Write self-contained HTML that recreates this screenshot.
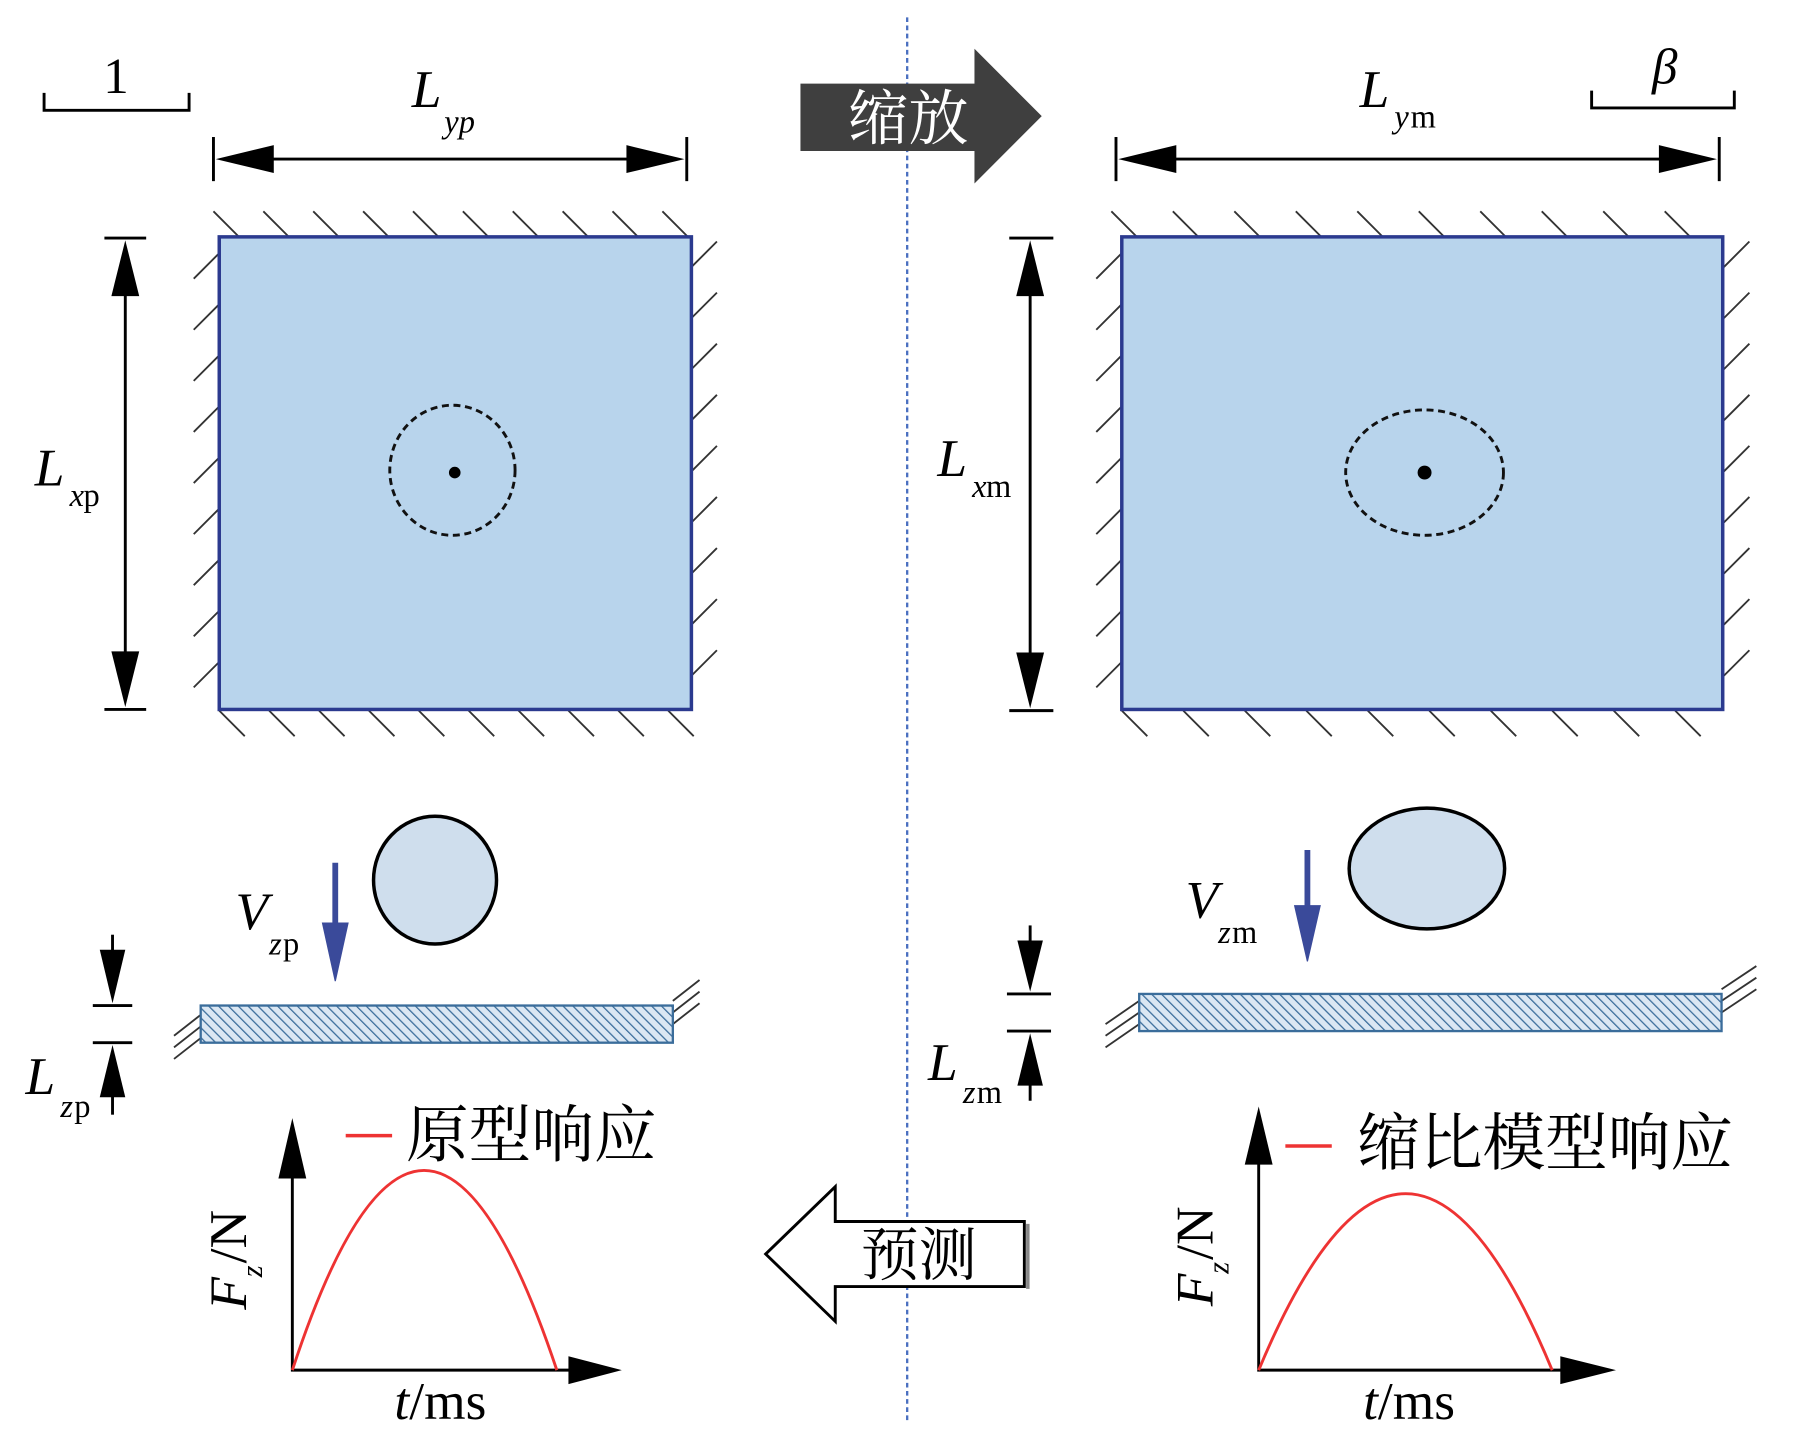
<!DOCTYPE html>
<html><head><meta charset="utf-8"><style>html,body{margin:0;padding:0;background:#fff}svg{display:block}</style></head><body>
<svg width="1819" height="1434" viewBox="0 0 1568 1235" preserveAspectRatio="none" xmlns="http://www.w3.org/2000/svg" font-family="Liberation Serif, Noto Serif CJK SC, serif">
<defs>
<pattern id="hp" width="6" height="6" patternUnits="userSpaceOnUse" patternTransform="rotate(-45)"><rect width="6" height="6" fill="#dbe7f3"/><line x1="0" y1="0" x2="0" y2="6" stroke="#3b6d9b" stroke-width="2.2"/></pattern>
</defs>
<line x1="782" y1="15" x2="782" y2="1225" stroke="#4a6fc0" stroke-width="2" stroke-dasharray="4,3"/>
<path d="M38,80 V95 H163 V80" fill="none" stroke="#000" stroke-width="2.5"/>
<text x="100" y="80" font-size="44" text-anchor="middle">1</text>
<path d="M1372,78 V93 H1495 V78" fill="none" stroke="#000" stroke-width="2.5"/>
<text x="1435" y="72" font-size="44" font-style="italic" text-anchor="middle">β</text>
<g stroke="#000" stroke-width="2.5">
<line x1="184" y1="118" x2="184" y2="156"/><line x1="592" y1="118" x2="592" y2="156"/><line x1="230" y1="137" x2="546" y2="137"/>
<line x1="962" y1="118" x2="962" y2="156"/><line x1="1482" y1="118" x2="1482" y2="156"/><line x1="1010" y1="137" x2="1434" y2="137"/>
<line x1="90" y1="205" x2="126" y2="205"/><line x1="90" y1="611" x2="126" y2="611"/><line x1="108" y1="250" x2="108" y2="566"/>
<line x1="870" y1="205" x2="908" y2="205"/><line x1="870" y1="612" x2="908" y2="612"/><line x1="888" y1="250" x2="888" y2="566"/>
</g>
<g fill="#000">
<path d="M186,137 L236,125 L236,149z"/><path d="M590,137 L540,125 L540,149z"/>
<path d="M964,137 L1014,125 L1014,149z"/><path d="M1480,137 L1430,125 L1430,149z"/>
<path d="M108,207 L96,255 L120,255z"/><path d="M108,609 L96,561 L120,561z"/>
<path d="M888,207 L876,255 L900,255z"/><path d="M888,610 L876,562 L900,562z"/>
</g>
<text x="355" y="92" font-size="46" font-style="italic">L</text><text x="383" y="114" font-size="28" font-style="italic">yp</text>
<text x="1172" y="92" font-size="46" font-style="italic">L</text><text x="1202" y="110" font-size="28" font-style="italic">y</text><text x="1216" y="110" font-size="28">m</text>
<text x="30" y="418" font-size="46" font-style="italic">L</text><text x="60" y="436" font-size="28" font-style="italic">x</text><text x="72" y="436" font-size="28">p</text>
<text x="808" y="410" font-size="46" font-style="italic">L</text><text x="838" y="428" font-size="28" font-style="italic">x</text><text x="850" y="428" font-size="28">m</text>
<g stroke="#333" stroke-width="1.6">
<path d="M184,182 l22,22 M227,182 l22,22 M270,182 l22,22 M313,182 l22,22 M356,182 l22,22 M399,182 l22,22 M442,182 l22,22 M485,182 l22,22 M528,182 l22,22 M571,182 l22,22"/>
<path d="M189,612 l22,22 M232,612 l22,22 M275,612 l22,22 M318,612 l22,22 M361,612 l22,22 M404,612 l22,22 M447,612 l22,22 M490,612 l22,22 M533,612 l22,22 M576,612 l22,22"/>
<path d="M167,240 l22,-22 M167,284 l22,-22 M167,328 l22,-22 M167,372 l22,-22 M167,416 l22,-22 M167,460 l22,-22 M167,504 l22,-22 M167,548 l22,-22 M167,592 l22,-22"/>
<path d="M596,230 l22,-22 M596,274 l22,-22 M596,318 l22,-22 M596,362 l22,-22 M596,406 l22,-22 M596,450 l22,-22 M596,494 l22,-22 M596,538 l22,-22 M596,582 l22,-22"/>
<path d="M958,182 l22,22 M1011,182 l22,22 M1064,182 l22,22 M1117,182 l22,22 M1170,182 l22,22 M1223,182 l22,22 M1276,182 l22,22 M1329,182 l22,22 M1382,182 l22,22 M1435,182 l22,22"/>
<path d="M967,612 l22,22 M1020,612 l22,22 M1073,612 l22,22 M1126,612 l22,22 M1179,612 l22,22 M1232,612 l22,22 M1285,612 l22,22 M1338,612 l22,22 M1391,612 l22,22 M1444,612 l22,22"/>
<path d="M945,240 l22,-22 M945,284 l22,-22 M945,328 l22,-22 M945,372 l22,-22 M945,416 l22,-22 M945,460 l22,-22 M945,504 l22,-22 M945,548 l22,-22 M945,592 l22,-22"/>
<path d="M1486,230 l22,-22 M1486,274 l22,-22 M1486,318 l22,-22 M1486,362 l22,-22 M1486,406 l22,-22 M1486,450 l22,-22 M1486,494 l22,-22 M1486,538 l22,-22 M1486,582 l22,-22"/>
</g>
<rect x="189" y="204" width="407" height="407" fill="#b8d4ec" stroke="#2b3a8f" stroke-width="3"/>
<rect x="967" y="204" width="518" height="407" fill="#b8d4ec" stroke="#2b3a8f" stroke-width="3"/>
<ellipse cx="390" cy="405" rx="54" ry="56" fill="none" stroke="#111" stroke-width="2.5" stroke-dasharray="6,4"/>
<circle cx="392" cy="407" r="5" fill="#000"/>
<ellipse cx="1228" cy="407" rx="68" ry="54" fill="none" stroke="#111" stroke-width="2.5" stroke-dasharray="6,4"/>
<circle cx="1228" cy="407" r="6" fill="#000"/>
<path d="M690,72 H840 V42 L898,100 L840,158 V130 H690z" fill="#3f3f3f"/>
<text x="783" y="120" font-size="52" fill="#fff" text-anchor="middle" font-family="Noto Serif CJK SC, serif">缩放</text>
<ellipse cx="375" cy="758" rx="53" ry="55" fill="#cfdeed" stroke="#000" stroke-width="3"/>
<ellipse cx="1230" cy="748" rx="67" ry="52" fill="#cfdeed" stroke="#000" stroke-width="3"/>
<g fill="#3a4a9a" stroke="#3a4a9a"><line x1="289" y1="743" x2="289" y2="800" stroke-width="5"/><path d="M278,795 L300,795 L289,845z"/>
<line x1="1127" y1="732" x2="1127" y2="785" stroke-width="5"/><path d="M1116,780 L1138,780 L1127,828z"/></g>
<text x="203" y="800" font-size="46" font-style="italic">V</text><text x="232" y="822" font-size="28" font-style="italic">z</text><text x="244" y="822" font-size="28">p</text>
<text x="1022" y="790" font-size="46" font-style="italic">V</text><text x="1050" y="812" font-size="28" font-style="italic">z</text><text x="1062" y="812" font-size="28">m</text>
<g stroke="#333" stroke-width="1.6">
<path d="M150,892 l23,-18 M150,902 l23,-18 M150,912 l23,-18 M580,862 l23,-18 M580,872 l23,-18 M580,882 l23,-18"/>
<path d="M953,882 l29,-20 M953,892 l29,-20 M953,902 l29,-20 M1484,852 l30,-20 M1484,862 l30,-20 M1484,872 l30,-20"/>
</g>
<rect x="173" y="866" width="407" height="32" fill="url(#hp)" stroke="#3b6d9b" stroke-width="2"/>
<rect x="982" y="856" width="502" height="32" fill="url(#hp)" stroke="#3b6d9b" stroke-width="2"/>
<g stroke="#000" stroke-width="2.5">
<line x1="80" y1="866" x2="114" y2="866"/><line x1="80" y1="898" x2="114" y2="898"/><line x1="97" y1="805" x2="97" y2="830"/><line x1="97" y1="935" x2="97" y2="960"/>
<line x1="868" y1="856" x2="906" y2="856"/><line x1="868" y1="888" x2="906" y2="888"/><line x1="888" y1="797" x2="888" y2="820"/><line x1="888" y1="925" x2="888" y2="948"/>
</g>
<g fill="#000"><path d="M86,818 L108,818 L97,864z"/><path d="M86,945 L108,945 L97,900z"/>
<path d="M877,810 L899,810 L888,854z"/><path d="M877,935 L899,935 L888,890z"/></g>
<text x="22" y="942" font-size="46" font-style="italic">L</text><text x="52" y="962" font-size="28" font-style="italic">z</text><text x="64" y="962" font-size="28">p</text>
<text x="800" y="930" font-size="46" font-style="italic">L</text><text x="830" y="950" font-size="28" font-style="italic">z</text><text x="842" y="950" font-size="28">m</text>
<g stroke="#000" stroke-width="2.5" fill="none"><path d="M252,995 V1180 H495"/><path d="M1085,995 V1180 H1350"/></g>
<g fill="#000"><path d="M240,1015 L252,963 L264,1015z"/><path d="M490,1168 L536,1180 L490,1192z"/>
<path d="M1073,1003 L1085,953 L1097,1003z"/><path d="M1345,1168 L1393,1180 L1345,1192z"/></g>
<path d="M252,1180 Q365,836 480,1180" fill="none" stroke="#e33" stroke-width="2.5"/>
<path d="M1085,1180 Q1212,876 1338,1180" fill="none" stroke="#e33" stroke-width="2.5"/>
<line x1="298" y1="978" x2="338" y2="978" stroke="#e33" stroke-width="3"/>
<line x1="1108" y1="987" x2="1148" y2="987" stroke="#e33" stroke-width="3"/>
<text x="350" y="996" font-size="54" font-family="Noto Serif CJK SC, serif">原型响应</text>
<text x="1170" y="1003" font-size="54" font-family="Noto Serif CJK SC, serif">缩比模型响应</text>
<g transform="translate(212,1128) rotate(-90)"><text font-size="46" font-style="italic">F</text><text x="28" y="14" font-size="26" font-style="italic">z</text><text x="40" font-size="46">/N</text></g>
<g transform="translate(1045,1125) rotate(-90)"><text font-size="46" font-style="italic">F</text><text x="28" y="14" font-size="26" font-style="italic">z</text><text x="40" font-size="46">/N</text></g>
<text x="340" y="1222" font-size="46"><tspan font-style="italic">t</tspan>/ms</text>
<text x="1175" y="1222" font-size="46"><tspan font-style="italic">t</tspan>/ms</text>
<path d="M883,1052 H720 V1022 L660,1080 L720,1138 V1108 H883z" fill="#fff" stroke="#000" stroke-width="2.5"/>
<path d="M886,1054 V1110" stroke="#888" stroke-width="3"/>
<text x="792" y="1098" font-size="50" text-anchor="middle" font-family="Noto Serif CJK SC, serif">预测</text>
</svg>
</body></html>
